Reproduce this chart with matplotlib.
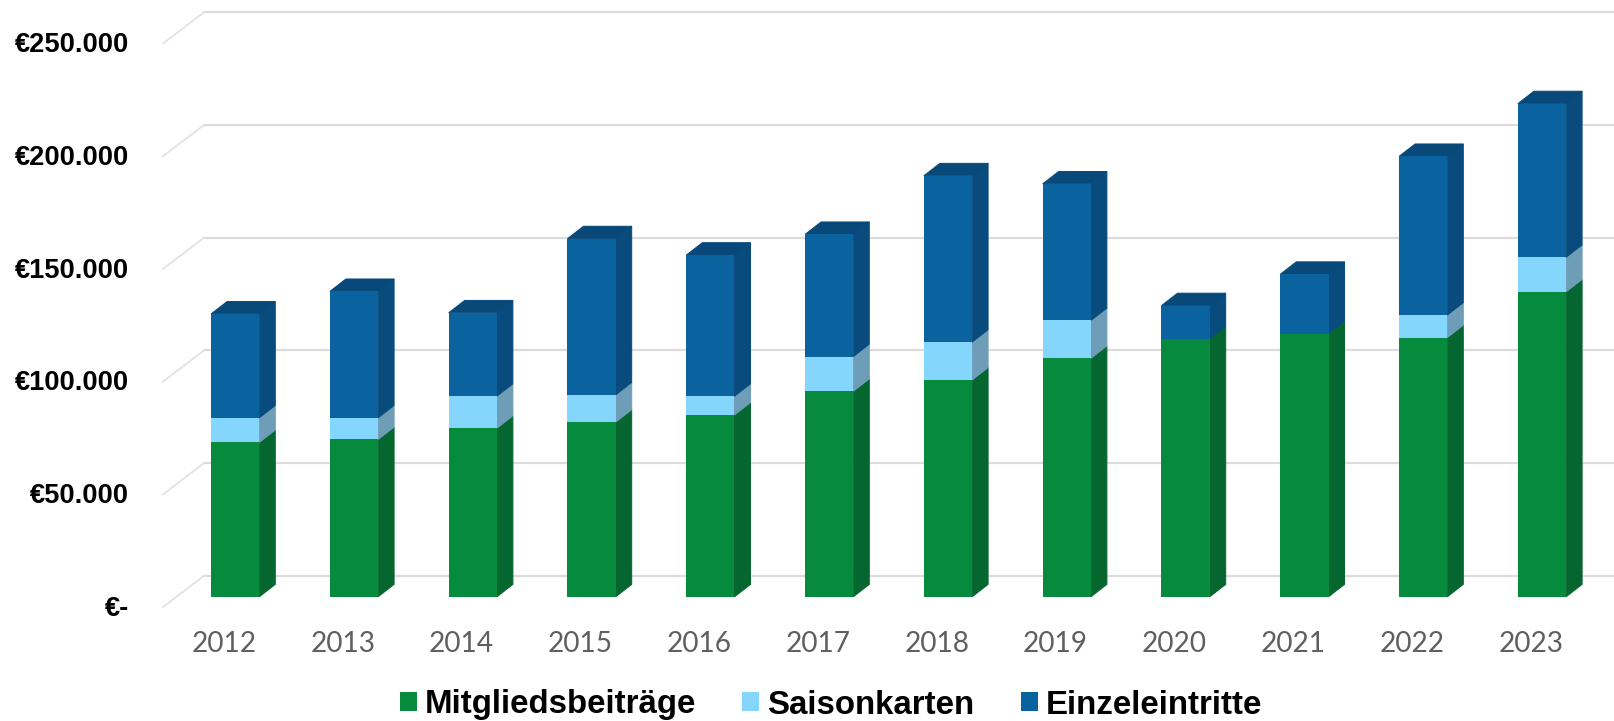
import matplotlib
matplotlib.use("Agg")
import matplotlib.pyplot as plt
from matplotlib.patches import Polygon, Patch
from matplotlib.transforms import ScaledTranslation
import numpy as np

years = ["2012","2013","2014","2015","2016","2017","2018","2019","2020","2021","2022","2023"]
mitglied = [68500, 69800, 74800, 77500, 80700, 91200, 96200, 105800, 114500, 116800, 115000, 135300]
saison = [10900, 9600, 14200, 12100, 8300, 15400, 16800, 16800, 0, 0, 10000, 15300]
einzel = [46100, 56100, 37000, 69300, 62600, 54200, 73800, 60600, 14700, 26300, 70400, 68200]
y_ticks = [0, 50000, 100000, 150000, 200000, 250000]
y_labels = ["€-", "€50.000", "€100.000", "€150.000", "€200.000", "€250.000"]
series_names = ["Mitgliedsbeiträge", "Saisonkarten", "Einzeleintritte"]
front_colors = ["#068A3E", "#84D6FD", "#0A629F"]
side_colors = ["#06662F", "#6E9DB8", "#084B7C"]
top_color = "#08497A"

W, H = 1615, 721
PX_PER_CAT = 118.8
PX_PER_EURO = 2.254 / 1000
X0_PX = 235.2
Y0_PX = 596.8
LEFT_PX, BOTTOM_PX = 163, 621

plt.rcParams["font.family"] = ["Liberation Sans", "DejaVu Sans"]
fig = plt.figure(figsize=(W / 100, H / 100), dpi=100)
ax = fig.add_axes([LEFT_PX / W, 1 - BOTTOM_PX / H, 1 - LEFT_PX / W, BOTTOM_PX / H])
ax.set_xlim((LEFT_PX - X0_PX) / PX_PER_CAT, (W - X0_PX) / PX_PER_CAT)
ax.set_ylim((Y0_PX - BOTTOM_PX) / PX_PER_EURO, Y0_PX / PX_PER_EURO)
for s in ax.spines.values():
    s.set_visible(False)

bar_w = 48.2 / PX_PER_CAT
dx = 16 / PX_PER_CAT
dy = 12.4 / PX_PER_EURO
wall_dy = 21.0 / PX_PER_EURO
slant_dy = 10.2 / PX_PER_EURO
wall_x = (204 - X0_PX) / PX_PER_CAT
xmax = ax.get_xlim()[1]

# back wall gridlines and slanted side wall lines
for v in y_ticks:
    ax.plot([wall_x, xmax], [v + wall_dy, v + wall_dy], color="#DCDCDC", lw=1.6, zorder=1, clip_on=False)
    ax.plot([ax.get_xlim()[0], wall_x], [v - slant_dy, v + wall_dy], color="#E2E2E2", lw=1.3, zorder=1, clip_on=False)

x = np.arange(len(years))
bottom = np.zeros(len(years))
for vals, fc, sc in zip([mitglied, saison, einzel], front_colors, side_colors):
    vals = np.array(vals, dtype=float)
    ax.bar(x, vals, width=bar_w, bottom=bottom, color=fc, linewidth=0, zorder=3)
    for xi, b, v in zip(x, bottom, vals):
        if v <= 0:
            continue
        r = xi + bar_w / 2
        ax.add_patch(Polygon([(r, b), (r + dx, b + dy), (r + dx, b + v + dy), (r, b + v)],
                             closed=True, facecolor=sc, edgecolor=sc, lw=0.7, zorder=2.5))
    bottom = bottom + vals
for xi, t in zip(x, bottom):
    l, r = xi - bar_w / 2, xi + bar_w / 2
    ax.add_patch(Polygon([(l, t), (r, t), (r + dx, t + dy), (l + dx, t + dy)],
                         closed=True, facecolor=top_color, edgecolor=top_color, lw=0.7, zorder=2.6))

ax.set_yticks(y_ticks)
ax.set_yticklabels(y_labels, fontsize=19.6, fontweight="bold", color="black")
ax.set_xticks(x)
ax.set_xticklabels(years, fontsize=20.2, color="#5F5F5F", family="Lato")
ax.tick_params(axis="both", length=0)
ax.tick_params(axis="y", pad=24.5)
ax.tick_params(axis="x", pad=7)
y_shift = ScaledTranslation(0, -8.9 / 100, fig.dpi_scale_trans)
x_shift = ScaledTranslation(-11.3 / 100, 0, fig.dpi_scale_trans)
for t in ax.get_yticklabels():
    t.set_transform(t.get_transform() + y_shift)
for t in ax.get_xticklabels():
    t.set_transform(t.get_transform() + x_shift)

handles = [Patch(facecolor=c, edgecolor="none", label=n) for c, n in zip(front_colors, series_names)]
fs_px = 33
leg = fig.legend(handles=handles, loc="center", bbox_to_anchor=(831 / W, 1 - 705 / H),
                 ncol=3, frameon=False, prop={"weight": "bold", "size": 23.8},
                 handlelength=17 / fs_px, handleheight=17 / fs_px, handletextpad=8 / fs_px,
                 columnspacing=46 / fs_px, borderpad=0, borderaxespad=0)
fig.savefig("out.png", dpi=100, facecolor="white")
